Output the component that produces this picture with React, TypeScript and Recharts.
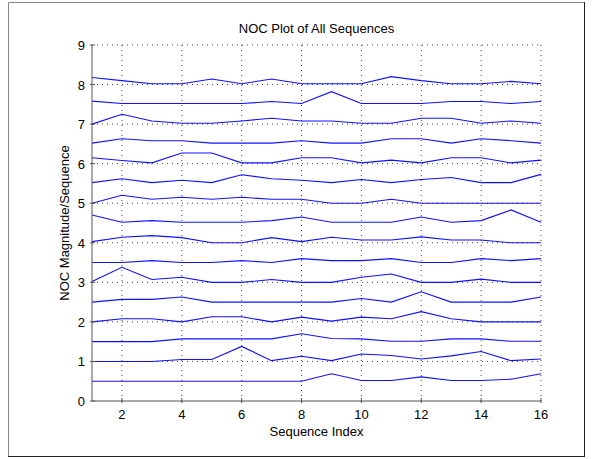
import { LineChart, Line, XAxis, YAxis, CartesianGrid } from 'recharts';

// sequence index 1..16
const seqIndex = [1, 2, 3, 4, 5, 6, 7, 8, 9, 10, 11, 12, 13, 14, 15, 16];

// each sequence is offset by 0.5 on the y axis
const seq01 = [0.5, 0.5, 0.5, 0.5, 0.5, 0.5, 0.5, 0.5, 0.69, 0.52, 0.52, 0.61, 0.52, 0.52, 0.55, 0.69];
const seq02 = [1, 1, 1, 1.05, 1.05, 1.38, 1.02, 1.13, 1.02, 1.19, 1.15, 1.06, 1.14, 1.25, 1.02, 1.06];
const seq03 = [1.5, 1.5, 1.5, 1.57, 1.57, 1.57, 1.57, 1.7, 1.58, 1.57, 1.51, 1.51, 1.57, 1.57, 1.51, 1.51];
const seq04 = [2, 2.08, 2.08, 2, 2.13, 2.13, 2, 2.12, 2.02, 2.12, 2.08, 2.26, 2.08, 2, 2, 2];
const seq05 = [2.5, 2.57, 2.57, 2.63, 2.5, 2.5, 2.5, 2.5, 2.5, 2.59, 2.5, 2.76, 2.5, 2.5, 2.5, 2.63];
const seq06 = [3.02, 3.38, 3.07, 3.13, 3, 3, 3.07, 3, 3, 3.13, 3.21, 3, 3, 3.08, 3, 3];
const seq07 = [3.5, 3.5, 3.55, 3.5, 3.5, 3.55, 3.5, 3.6, 3.55, 3.55, 3.6, 3.5, 3.5, 3.6, 3.55, 3.6];
const seq08 = [4.03, 4.14, 4.18, 4.13, 4, 4, 4.13, 4.03, 4.14, 4.07, 4.07, 4.15, 4.07, 4.07, 4, 4];
const seq09 = [4.7, 4.52, 4.56, 4.52, 4.52, 4.52, 4.56, 4.65, 4.52, 4.52, 4.52, 4.65, 4.52, 4.56, 4.83, 4.52];
const seq10 = [5, 5.2, 5.1, 5.15, 5.1, 5.15, 5.1, 5.1, 5, 5, 5.1, 5, 5, 5, 5, 5];
const seq11 = [5.52, 5.62, 5.52, 5.58, 5.52, 5.72, 5.62, 5.58, 5.52, 5.6, 5.52, 5.6, 5.65, 5.52, 5.52, 5.73];
const seq12 = [6.15, 6.08, 6.02, 6.27, 6.27, 6.02, 6.02, 6.15, 6.15, 6.02, 6.09, 6.02, 6.15, 6.15, 6.02, 6.09];
const seq13 = [6.52, 6.63, 6.58, 6.58, 6.52, 6.52, 6.52, 6.58, 6.52, 6.52, 6.63, 6.63, 6.52, 6.63, 6.58, 6.52];
const seq14 = [7, 7.25, 7.08, 7.02, 7.02, 7.08, 7.15, 7.08, 7.08, 7.02, 7.02, 7.15, 7.15, 7.02, 7.08, 7.02];
const seq15 = [7.58, 7.52, 7.52, 7.52, 7.52, 7.52, 7.57, 7.52, 7.82, 7.52, 7.52, 7.52, 7.57, 7.57, 7.52, 7.57];
const seq16 = [8.18, 8.1, 8.02, 8.02, 8.14, 8.02, 8.14, 8.02, 8.02, 8.02, 8.2, 8.1, 8.02, 8.02, 8.08, 8.02];

const allSeqs = [seq01, seq02, seq03, seq04, seq05, seq06, seq07, seq08, seq09, seq10, seq11, seq12, seq13, seq14, seq15, seq16];

const xTicks = [2, 4, 6, 8, 10, 12, 14, 16];
const yTicks = [0, 1, 2, 3, 4, 5, 6, 7, 8, 9];

const data = seqIndex.map((idx, i) => {
  const row: Record<string, number> = { idx };
  allSeqs.forEach((s, k) => {
    row[`s${k + 1}`] = s[i];
  });
  return row;
});

const FONT = '"Liberation Sans", Arial, sans-serif';

const XTick = (props: any) => {
  const { x, y, payload } = props;
  return (
    <g>
      <line x1={x} y1={y} x2={x} y2={y - 5} stroke="#555" />
      <text x={x} y={y + 16} textAnchor="middle" fontSize={13} fontFamily={FONT} fill="#000">
        {payload.value}
      </text>
    </g>
  );
};

const YTick = (props: any) => {
  const { x, y, payload } = props;
  return (
    <g>
      <line x1={x} y1={y} x2={x + 5} y2={y} stroke="#555" />
      <text x={x - 5} y={y + 5} textAnchor="end" fontSize={13} fontFamily={FONT} fill="#000">
        {payload.value}
      </text>
    </g>
  );
};

export default function App() {
  return (
    <div style={{ position: 'fixed', left: 0, top: 0, width: 592, height: 459, background: '#fff' }}>
      <LineChart width={592} height={459} data={data} margin={{ top: 45, right: 51, bottom: 0, left: 0 }}>
        <CartesianGrid stroke="#444" strokeDasharray="1 4" horizontalValues={[1, 2, 3, 4, 5, 6, 7, 8, 9]} verticalValues={xTicks} />
        <XAxis
          dataKey="idx"
          type="number"
          domain={[1, 16]}
          ticks={xTicks}
          height={58}
          stroke="#555"
          tickLine={false}
          tickSize={0}
          tick={XTick}
          interval={0}
        />
        <YAxis
          type="number"
          domain={[0, 9]}
          ticks={yTicks}
          width={92}
          stroke="#555"
          tickLine={false}
          tickSize={0}
          tick={YTick}
          interval={0}
        />
        {allSeqs.map((_, k) => (
          <Line
            key={k}
            type="linear"
            dataKey={`s${k + 1}`}
            stroke="#1010ff"
            strokeWidth={1.1}
            dot={false}
            isAnimationActive={false}
          />
        ))}
      </LineChart>
      <svg width={592} height={459} style={{ position: 'absolute', left: 0, top: 0, pointerEvents: 'none' }}>
        <line x1={8.5} y1={2.5} x2={584.5} y2={2.5} stroke="#888" />
        <line x1={8.5} y1={2.5} x2={8.5} y2={456.5} stroke="#888" />
        <line x1={8} y1={456.5} x2={585} y2={456.5} stroke="#222" />
        <line x1={584.5} y1={2} x2={584.5} y2={457} stroke="#222" />
        <text x={316.5} y={33} textAnchor="middle" fontSize={13} fontFamily={FONT} fill="#000">
          NOC Plot of All Sequences
        </text>
        <text x={316.5} y={436} textAnchor="middle" fontSize={13} fontFamily={FONT} fill="#000">
          Sequence Index
        </text>
        <text
          x={0}
          y={0}
          transform="translate(69,223) rotate(-90)"
          textAnchor="middle"
          fontSize={13}
          fontFamily={FONT}
          fill="#000"
        >
          NOC Magnitude/Sequence
        </text>
      </svg>
    </div>
  );
}
